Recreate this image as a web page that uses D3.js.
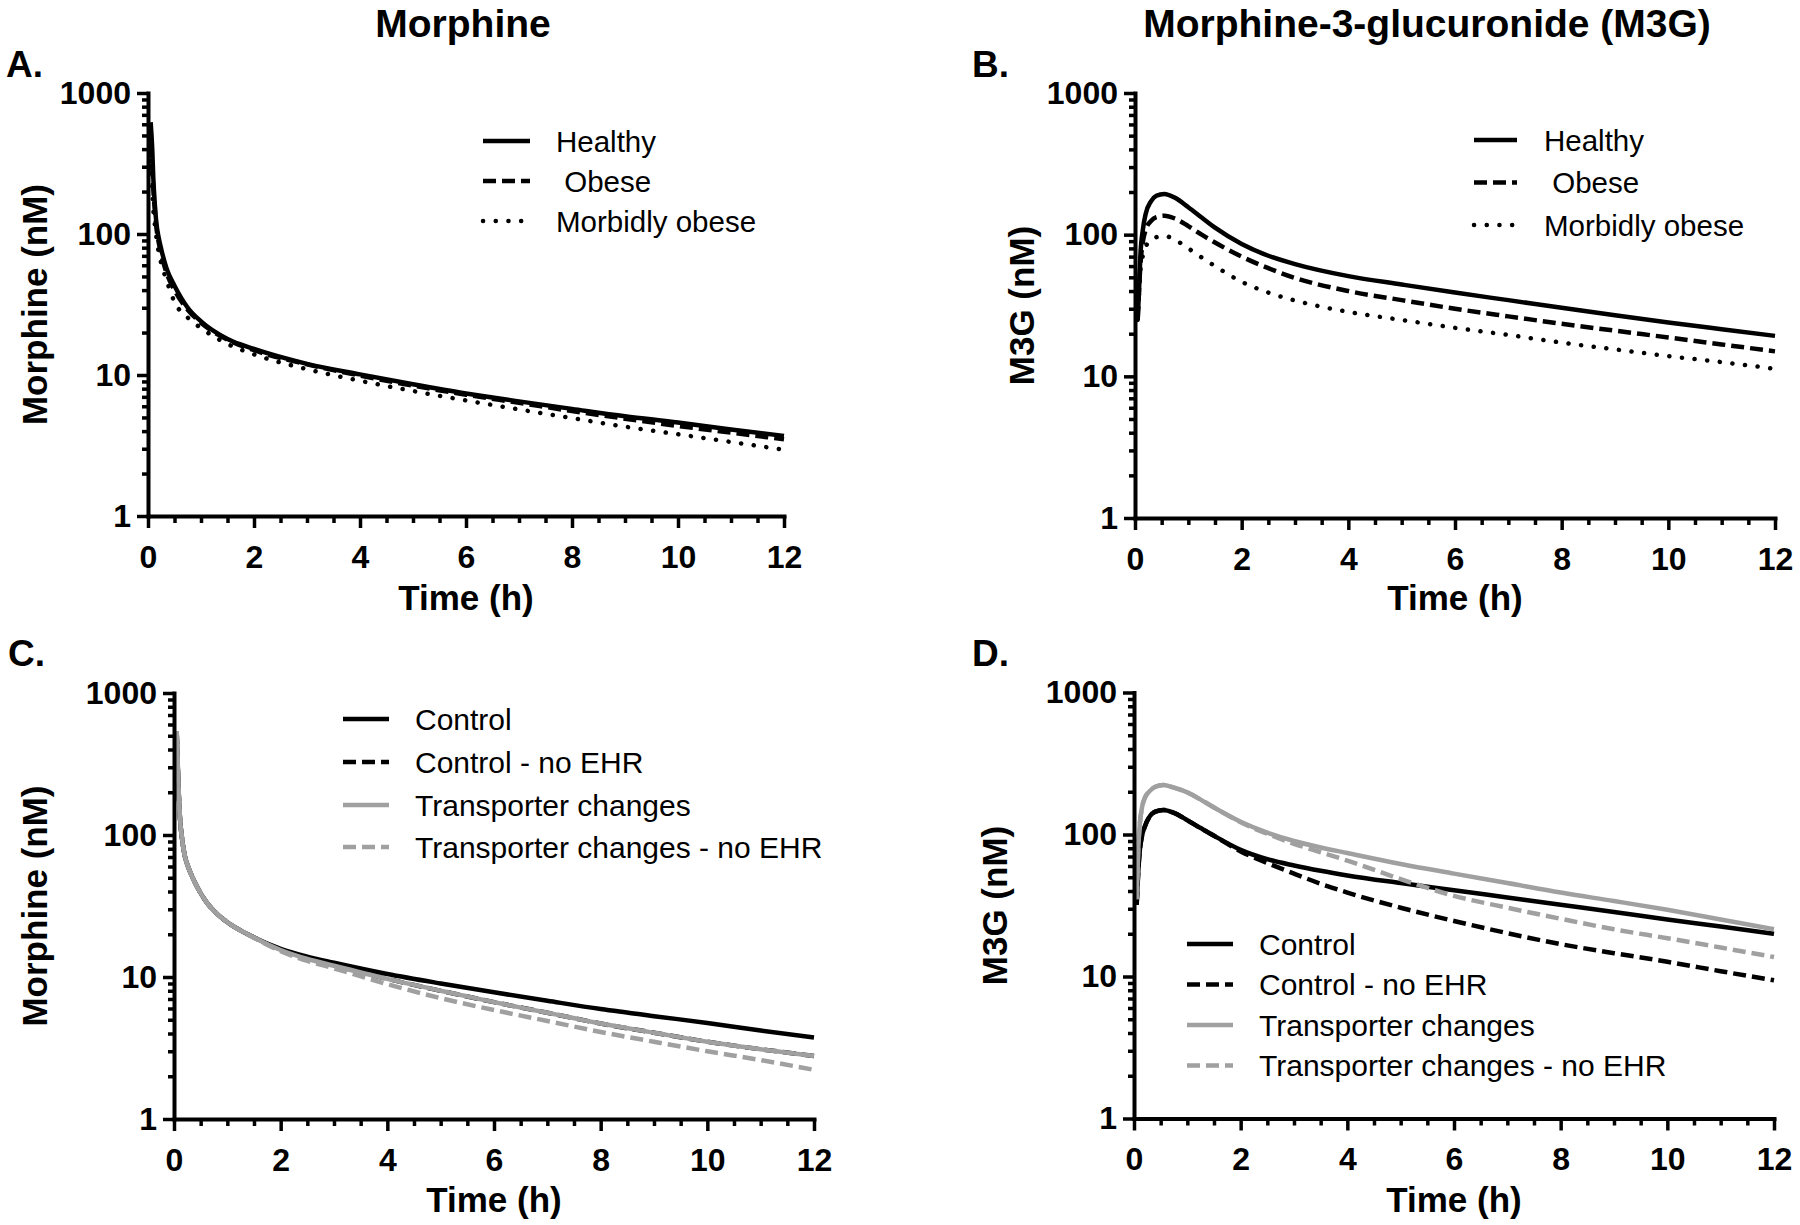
<!DOCTYPE html>
<html><head><meta charset="utf-8">
<script src="https://cdn.jsdelivr.net/npm/d3@7"></script>
<style>body{margin:0;background:#fff}svg{display:block}</style>
</head><body>
<svg id="c" width="1800" height="1225"></svg>
<script>
// ---------------- DATA ----------------
const xTickMajor = [0, 2, 4, 6, 8, 10, 12];
const yTickMajor = [1, 10, 100, 1000];

// Panel A: Morphine (nM), body weight groups
const timeA = [0.05,0.08,0.1,0.13,0.16,0.2,0.25,0.35,0.5,0.75,1,1.5,2,3,4,5,6,7,8,9,10,11,12];
const morphHealthy = [620,400,250,160,118,95,78,57,43,30,24,18,15.3,12,10.1,8.6,7.4,6.5,5.75,5.1,4.6,4.1,3.7];
const morphObese   = [430,300,210,145,110,88,72,53,40,29,23.5,17.8,15,11.9,9.9,8.4,7.25,6.35,5.55,4.9,4.35,3.9,3.5];
const morphMorbid  = [330,220,150,115,94,75,62,47,33,25.5,21.5,16.6,14,11,9.1,7.7,6.6,5.7,4.95,4.3,3.8,3.35,2.95];

// Panel B: M3G (nM), body weight groups
const timeB = [0.05,0.075,0.1,0.15,0.2,0.3,0.4,0.55,0.75,1,1.25,1.5,2,2.5,3,4,5,6,7,8,9,10,11,12];
const m3gHealthy = [25,40,70,110,140,172,188,194,182,156,132,112,86,71,62,51,44.5,39,34.5,30.5,27,24,21.5,19.3];
const m3gObese   = [25,40,60,90,108,125,133,136,130,115,100,88,70,58,49.5,40,34.5,30,26.5,23.5,21,18.8,16.8,15];
const m3gMorbid  = [25,38,55,72,82,92,96,98,92,80,69,60,46.5,39,34.3,28.5,25,22,19.6,17.3,15.5,13.9,12.6,11.3];

// Panel C: Morphine (nM), EHR / transporter scenarios
const timeC = [0.05,0.08,0.11,0.15,0.2,0.27,0.35,0.45,0.6,0.8,1,1.5,2,2.5,3,4,5,6,7,8,9,10,11,12];
const morphControl      = [540,240,135,95,72,59,50,42,34,28,24.3,19,15.8,13.9,12.6,10.5,9,7.8,6.8,5.95,5.3,4.75,4.2,3.75];
const morphControlNoEHR = [540,240,135,95,72,59,50,42,34,28,24.3,19,15.5,13.4,12,9.7,8,6.65,5.6,4.7,4.05,3.5,3.1,2.78];
const morphTransp       = [540,240,135,95,72,59,50,42,34,28,24.3,19,15.5,13.4,12,9.7,8,6.65,5.6,4.7,4.05,3.5,3.1,2.78];
const morphTranspNoEHR  = [540,240,135,95,72,59,50,42,34,28,24.3,18.9,15.2,13,11.5,8.9,7.1,5.85,4.9,4.1,3.5,3.0,2.6,2.22];

// Panel D: M3G (nM), EHR / transporter scenarios
const timeD = [0.05,0.08,0.11,0.15,0.2,0.3,0.4,0.55,0.75,1,1.25,1.5,2,2.5,3,3.5,4,5,6,7,8,9,10,11,12];
const m3gControl      = [32,55,78,98,113,135,145,149,142,126,111,98,78,67,60.5,55.5,51.5,45.5,40.5,36,32,28.5,25.2,22.5,20];
const m3gControlNoEHR = [32,55,78,98,113,135,145,149,142,126,111,98,76,63,53,45,39,30.5,24.6,20.2,16.9,14.6,12.7,10.9,9.4];
const m3gTransp       = [35,80,120,155,180,203,217,223,214,198,176,155,123,103,90,81,74,62,53,45.5,39,34,29.5,25.2,21.5];
const m3gTranspNoEHR  = [35,80,120,155,180,203,217,223,214,198,176,155,122,101,86,75,65.5,48.5,37,30.5,25.5,21.5,18.6,16,13.7];

const legendBW  = ["Healthy", " Obese", "Morbidly obese"];
const legendEHR = ["Control", "Control - no EHR", "Transporter changes", "Transporter changes - no EHR"];
const titles = ["Morphine", "Morphine-3-glucuronide (M3G)"];

// ---------------- STYLE ----------------
const FONT = '"Liberation Sans", Arial, Helvetica, sans-serif';
const BLACK = "#000000", GRAY = "#a0a0a0";
const LW = 4.5;
const styles = {
  solid:  {dash: null, cap: "butt"},
  dashed: {dash: "13,6", cap: "butt"},
  dotted: {dash: "0.1,12.6", cap: "round"}
};

const svg = d3.select("#c");
svg.append("rect").attr("width",1800).attr("height",1225).attr("fill","#fff");

const panels = [
  {letter:"A.", lx:6, ly:77, x0:148, x1:784, yT:93, yB:516, ylab:"Morphine (nM)", ylx:35, xlabY:610,
   time: timeA,
   series:[{v:morphHealthy,c:BLACK,s:"solid"},{v:morphObese,c:BLACK,s:"dashed"},{v:morphMorbid,c:BLACK,s:"dotted"}],
   leg:{names:legendBW, l0:483, l1:530, tx:556, rows:[141,181,221], fs:29.5}},
  {letter:"B.", lx:972, ly:77, x0:1135, x1:1775, yT:93, yB:518, ylab:"M3G (nM)", ylx:1022, xlabY:610,
   time: timeB,
   series:[{v:m3gHealthy,c:BLACK,s:"solid"},{v:m3gObese,c:BLACK,s:"dashed"},{v:m3gMorbid,c:BLACK,s:"dotted"}],
   leg:{names:legendBW, l0:1474, l1:1517, tx:1544, rows:[140,182.5,225], fs:29.5}},
  {letter:"C.", lx:8, ly:666, x0:174, x1:814, yT:693, yB:1119, ylab:"Morphine (nM)", ylx:35, xlabY:1212,
   time: timeC,
   series:[{v:morphControl,c:BLACK,s:"solid"},{v:morphControlNoEHR,c:BLACK,s:"dashed"},{v:morphTransp,c:GRAY,s:"solid"},{v:morphTranspNoEHR,c:GRAY,s:"dashed"}],
   leg:{names:legendEHR, l0:343, l1:389, tx:415, rows:[719,762,805,847], fs:30}},
  {letter:"D.", lx:972, ly:666, x0:1134, x1:1774, yT:692.5, yB:1118.5, ylab:"M3G (nM)", ylx:995, xlabY:1212,
   time: timeD,
   series:[{v:m3gControl,c:BLACK,s:"solid"},{v:m3gControlNoEHR,c:BLACK,s:"dashed"},{v:m3gTransp,c:GRAY,s:"solid"},{v:m3gTranspNoEHR,c:GRAY,s:"dashed"}],
   leg:{names:legendEHR, l0:1187, l1:1233, tx:1259, rows:[944,984.5,1025,1065.5], fs:30}}
];

// titles
svg.append("text").attr("x",463).attr("y",37).attr("text-anchor","middle")
  .attr("font-family",FONT).attr("font-weight","bold").attr("font-size",39).text(titles[0]);
svg.append("text").attr("x",1427).attr("y",37).attr("text-anchor","middle")
  .attr("font-family",FONT).attr("font-weight","bold").attr("font-size",39).text(titles[1]);

const minorY = [];
[1,10,100].forEach(d=>{for(let k=2;k<=9;k++) minorY.push(d*k);});
const minorX = d3.range(0, 12.001, 0.5).filter(v=>v%2!==0);

panels.forEach(p=>{
  const g = svg.append("g");
  const x = d3.scaleLinear().domain([0,12]).range([p.x0,p.x1]);
  const y = d3.scaleLog().domain([1,1000]).range([p.yB,p.yT]);

  // letter
  g.append("text").attr("x",p.lx).attr("y",p.ly).attr("font-family",FONT)
    .attr("font-weight","bold").attr("font-size",37).text(p.letter);

  // curves
  const line = d3.line().x((d)=>x(d[0])).y(d=>y(d[1])).curve(d3.curveMonotoneX);
  p.series.forEach(s=>{
    const st = styles[s.s];
    g.append("path").datum(p.time.map((t,i)=>[t,s.v[i]]))
      .attr("d",line).attr("fill","none").attr("stroke",s.c).attr("stroke-width",LW)
      .attr("stroke-dasharray",st.dash).attr("stroke-linecap",st.cap).attr("stroke-linejoin","round");
  });

  // axes
  const xMinor = g.append("g").attr("transform",`translate(0,${p.yB})`)
    .call(d3.axisBottom(x).tickValues(minorX).tickSize(7).tickFormat(""));
  xMinor.select(".domain").remove();
  const xAx = g.append("g").attr("transform",`translate(0,${p.yB})`)
    .call(d3.axisBottom(x).tickValues(xTickMajor).tickSize(12).tickSizeOuter(0).tickPadding(17).tickFormat(d3.format("d")));
  const yMinor = g.append("g").attr("transform",`translate(${p.x0},0)`)
    .call(d3.axisLeft(y).tickValues(minorY).tickSize(6).tickFormat(""));
  yMinor.select(".domain").remove();
  const yAx = g.append("g").attr("transform",`translate(${p.x0},0)`)
    .call(d3.axisLeft(y).tickValues(yTickMajor).tickSize(11).tickSizeOuter(0).tickPadding(6).tickFormat(d3.format("d")));
  [xMinor,xAx,yMinor,yAx].forEach(a=>{
    a.selectAll(".tick line").attr("stroke","#000").attr("stroke-width",3.5);
    a.selectAll(".domain").attr("stroke","#000").attr("stroke-width",4).attr("stroke-linecap","square");
    a.selectAll("text").attr("font-family",FONT).attr("font-weight","bold").attr("font-size",32).attr("fill","#000");
  });

  // axis titles
  g.append("text").attr("x",(p.x0+p.x1)/2).attr("y",p.xlabY).attr("text-anchor","middle")
    .attr("font-family",FONT).attr("font-weight","bold").attr("font-size",35).text("Time (h)");
  g.append("text").attr("transform",`translate(${p.ylx},${(p.yT+p.yB)/2}) rotate(-90)`)
    .attr("text-anchor","middle").attr("dy","0.35em")
    .attr("font-family",FONT).attr("font-weight","bold").attr("font-size",35).text(p.ylab);

  // legend
  p.series.forEach((s,i)=>{
    const st = styles[s.s];
    const ry = p.leg.rows[i];
    g.append("line").attr("x1",p.leg.l0).attr("x2",p.leg.l1).attr("y1",ry).attr("y2",ry)
      .attr("stroke",s.c).attr("stroke-width",LW).attr("stroke-dasharray",st.dash).attr("stroke-linecap",st.cap);
    g.append("text").attr("x",p.leg.tx).attr("y",ry).attr("dy","0.36em")
      .attr("font-family",FONT).attr("font-size",p.leg.fs).attr("xml:space","preserve")
      .style("white-space","pre").text(p.leg.names[i]);
  });
});
</script>
</body></html>
